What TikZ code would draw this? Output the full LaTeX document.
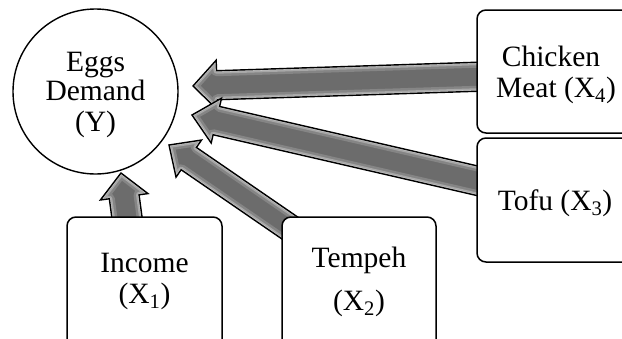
\documentclass[tikz,border=0pt]{standalone}
\usepackage{fontspec}
\setmainfont{Liberation Serif}
\usetikzlibrary{calc}
\definecolor{arrcore}{HTML}{6C6C6C}
\definecolor{arrmid}{HTML}{858585}
\definecolor{arrlight}{HTML}{A8A8A8}
\definecolor{arredge}{HTML}{D0D0D0}
\tikzset{
  boxnode/.style={draw, line width=1.5pt, rounded corners=9pt, fill=white, inner sep=0pt},
  lbl/.style={anchor=base, inner sep=0pt, font=\fontsize{29.5}{31}\selectfont},
}
% #1 start, #2 tip, #3 half shaft width, #4 half head width, #5 head length
\newcommand{\blockarr}[5]{%
  \coordinate (BAh) at ($(#2)!#5!(#1)$);
  \def\BApath{($(#1)!#3!90:(#2)$) -- ($(BAh)!#3!90:(#2)$) -- ($(BAh)!#4!90:(#2)$) -- (#2)
    -- ($(BAh)!#4!-90:(#2)$) -- ($(BAh)!#3!-90:(#2)$) -- ($(#1)!#3!-90:(#2)$) -- cycle}%
  \fill[arrcore] \BApath;
  \begin{scope}
    \clip \BApath;
    \draw[arrmid, line width=11pt, line join=round] \BApath;
    \draw[arrlight, line width=6pt, line join=round] \BApath;
    \draw[arredge, line width=2.5pt, line join=round] \BApath;
  \end{scope}
  \draw[black, line width=1.4pt, line join=miter] \BApath;
}
\begin{document}
\begin{tikzpicture}[x=1pt, y=-1pt]
\useasboundingbox (0,0) rectangle (622,338);
\clip (0,0) rectangle (622,338);

% arrow anchors
\coordinate (s4) at (500,76);
\coordinate (t4) at (193,86);
\coordinate (s3) at (500,186);
\coordinate (t3) at (192,115);
\coordinate (s2) at (300,235);
\coordinate (t2) at (169,145);
\coordinate (s1) at (130,240);
\coordinate (t1) at (121,173);

\blockarr{s4}{t4}{14.5pt}{25pt}{24pt}
\blockarr{s3}{t3}{14.5pt}{23pt}{25pt}
\blockarr{s2}{t2}{13.5pt}{22.5pt}{24pt}
\blockarr{s1}{t1}{15pt}{24pt}{24pt}

% target circle
\node (eggs) [draw, circle, line width=1.4pt, minimum size=165pt, inner sep=0pt] at (95.5,91.5) {};
\node (ly1) [lbl] at (95.5,71) {Eggs};
\node (ly2) [lbl] at (95.5,100) {Demand};
\node (ly3) [lbl] at (95.5,131) {(Y)};

% boxes
\node (income) [boxnode, minimum width=155pt, minimum height=140pt] at (144.5,287) {};
\node (li1) [lbl] at (144.5,272) {Income};
\node (li2) [lbl] at (144.5,303) {(X\textsubscript{1})};

\node (tempeh) [boxnode, minimum width=154pt, minimum height=140pt] at (359,287) {};
\node (lt1) [lbl] at (359,267) {Tempeh};
\node (lt2) [lbl] at (359,310) {(X\textsubscript{2})};

\node (chicken) [boxnode, minimum width=170pt, minimum height=123pt] at (562,71.5) {};
\node (lc1) [lbl] at (551,66) {Chicken};
\node (lc2) [lbl] at (556,97) {Meat (X\textsubscript{4})};

\node (tofu) [boxnode, minimum width=170pt, minimum height=124pt] at (562,200) {};
\node (lf1) [lbl] at (555,210) {Tofu (X\textsubscript{3})};
\end{tikzpicture}
\end{document}
